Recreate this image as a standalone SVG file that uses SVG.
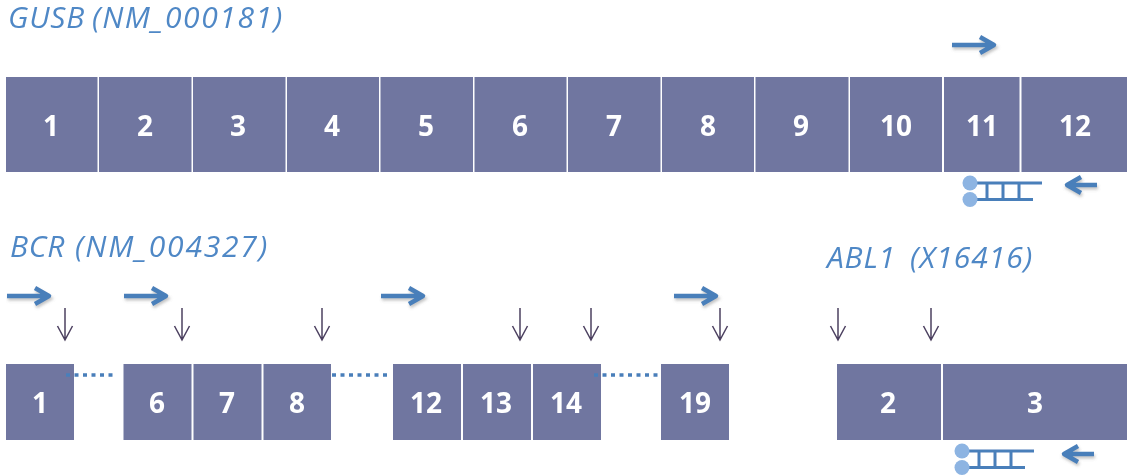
<svg xmlns="http://www.w3.org/2000/svg" width="1127" height="476" viewBox="0 0 1127 476">
<defs>
<filter id="s" x="-20%" y="-50%" width="140%" height="220%"><feGaussianBlur stdDeviation="1.5"/></filter>
<filter id="b" x="0" y="0" width="100%" height="100%"><feGaussianBlur stdDeviation="0.5"/></filter>
<g id="pr"><path d="M0 0H41M28 -8L42 0L28 8" transform="translate(1 2.5)" fill="none" stroke="#999" stroke-width="4" opacity=".6" filter="url(#s)"/><path d="M0 0H41M28 -8L42 0L28 8" fill="none" stroke="#4a7fba" stroke-width="4.500" stroke-linejoin="round"/></g>
<g id="pl"><path d="M0 0H-29M-16 -8L-30 0L-16 8" transform="translate(1 2.5)" fill="none" stroke="#999" stroke-width="4" opacity=".6" filter="url(#s)"/><path d="M0 0H-29M-16 -8L-30 0L-16 8" fill="none" stroke="#4a7fba" stroke-width="4.500" stroke-linejoin="round"/></g>
<g id="dn"><path d="M0 0V32M-7.500 18L0 32L7.500 18" fill="none" stroke="#4c4060" stroke-width="1.500"/></g>
<g id="pb"><path d="M14 0H80M14 16.500H71M25 0V16.500M41 0V16.500M57 0V16.500" fill="none" stroke="#4a7fba" stroke-width="3"/><circle cx="8" cy="0" r="7.500" fill="#8db4e2"/><circle cx="8" cy="16.500" r="7.500" fill="#8db4e2"/></g>
</defs>
<style>
.e{fill:#6f76a0}
.t{font:700 28px "Open Sans","Liberation Sans",sans-serif;fill:#fff;text-anchor:middle}
.h{font:italic 400 30px "Open Sans","Liberation Sans",sans-serif;fill:#5088c6;letter-spacing:.8px}
.d{stroke:#4a7fba;stroke-width:3.500;stroke-dasharray:4 4.500;fill:none}
</style>
<rect width="1127" height="476" fill="#fff"/>
<g filter="url(#b)">
<text class="h" x="8" y="28">GUSB<tspan x="92" letter-spacing="1.600">(NM_000181)</tspan></text>
<text class="h" x="10" y="257">BCR<tspan x="75" letter-spacing="1.800">(NM_004327)</tspan></text>
<text class="h" x="827" y="268">ABL1<tspan x="910" letter-spacing="1">(X16416)</tspan></text>
<g id="gusb">
<g id="g1"><rect class="e" x="6" y="77" width="91.500" height="95"/><text class="t" x="51" y="136">1</text></g>
<g id="g2"><rect class="e" x="99" y="77" width="92.500" height="95"/><text class="t" x="145" y="136">2</text></g>
<g id="g3"><rect class="e" x="193" y="77" width="92.500" height="95"/><text class="t" x="238" y="136">3</text></g>
<g id="g4"><rect class="e" x="287" y="77" width="92" height="95"/><text class="t" x="332" y="136">4</text></g>
<g id="g5"><rect class="e" x="380.500" y="77" width="92.500" height="95"/><text class="t" x="426" y="136">5</text></g>
<g id="g6"><rect class="e" x="474.500" y="77" width="92" height="95"/><text class="t" x="520" y="136">6</text></g>
<g id="g7"><rect class="e" x="568" y="77" width="92.500" height="95"/><text class="t" x="614" y="136">7</text></g>
<g id="g8"><rect class="e" x="662" y="77" width="92" height="95"/><text class="t" x="708" y="136">8</text></g>
<g id="g9"><rect class="e" x="755.500" y="77" width="93" height="95"/><text class="t" x="801" y="136">9</text></g>
<g id="g10"><rect class="e" x="850" y="77" width="92" height="95"/><text class="t" x="896" y="136">10</text></g>
<g id="g11"><rect class="e" x="944" y="77" width="75.500" height="95"/><text class="t" x="982" y="136">11</text></g>
<g id="g12"><rect class="e" x="1021.500" y="77" width="105.500" height="95"/><text class="t" x="1075" y="136">12</text></g>
</g>
<g id="bcr">
<g id="b1"><rect class="e" x="6" y="364" width="68" height="76"/><text class="t" x="40" y="413">1</text></g>
<g id="b6"><rect class="e" x="123.500" y="364" width="68" height="76"/><text class="t" x="157" y="413">6</text></g>
<g id="b7"><rect class="e" x="193.500" y="364" width="68" height="76"/><text class="t" x="227" y="413">7</text></g>
<g id="b8"><rect class="e" x="263.500" y="364" width="67.500" height="76"/><text class="t" x="297" y="413">8</text></g>
<g id="b12"><rect class="e" x="393" y="364" width="68" height="76"/><text class="t" x="426" y="413">12</text></g>
<g id="b13"><rect class="e" x="463" y="364" width="68" height="76"/><text class="t" x="496" y="413">13</text></g>
<g id="b14"><rect class="e" x="533" y="364" width="68" height="76"/><text class="t" x="566" y="413">14</text></g>
<g id="b19"><rect class="e" x="661" y="364" width="68" height="76"/><text class="t" x="695" y="413">19</text></g>
</g>
<g id="abl1">
<g id="a2"><rect class="e" x="837" y="364" width="104" height="76"/><text class="t" x="888" y="413">2</text></g>
<g id="a3"><rect class="e" x="943" y="364" width="184" height="76"/><text class="t" x="1035" y="413">3</text></g>
</g>
<g id="connectors">
<path class="d" d="M66 375H113M332 375H390M594 375H659"/>
<use href="#pr" x="952" y="45"/>
<use href="#pl" x="1097" y="185"/>
<use href="#pr" x="7" y="296"/>
<use href="#pr" x="124" y="296"/>
<use href="#pr" x="381" y="296"/>
<use href="#pr" x="674" y="296"/>
<use href="#pl" x="1094" y="454"/>
<use href="#dn" x="65" y="308"/>
<use href="#dn" x="182" y="308"/>
<use href="#dn" x="322" y="308"/>
<use href="#dn" x="520" y="308"/>
<use href="#dn" x="591" y="308"/>
<use href="#dn" x="720" y="308"/>
<use href="#dn" x="838" y="308"/>
<use href="#dn" x="931" y="308"/>
<use href="#pb" x="962" y="183"/>
<use href="#pb" x="954" y="451"/>
</g>
</g>
</svg>
